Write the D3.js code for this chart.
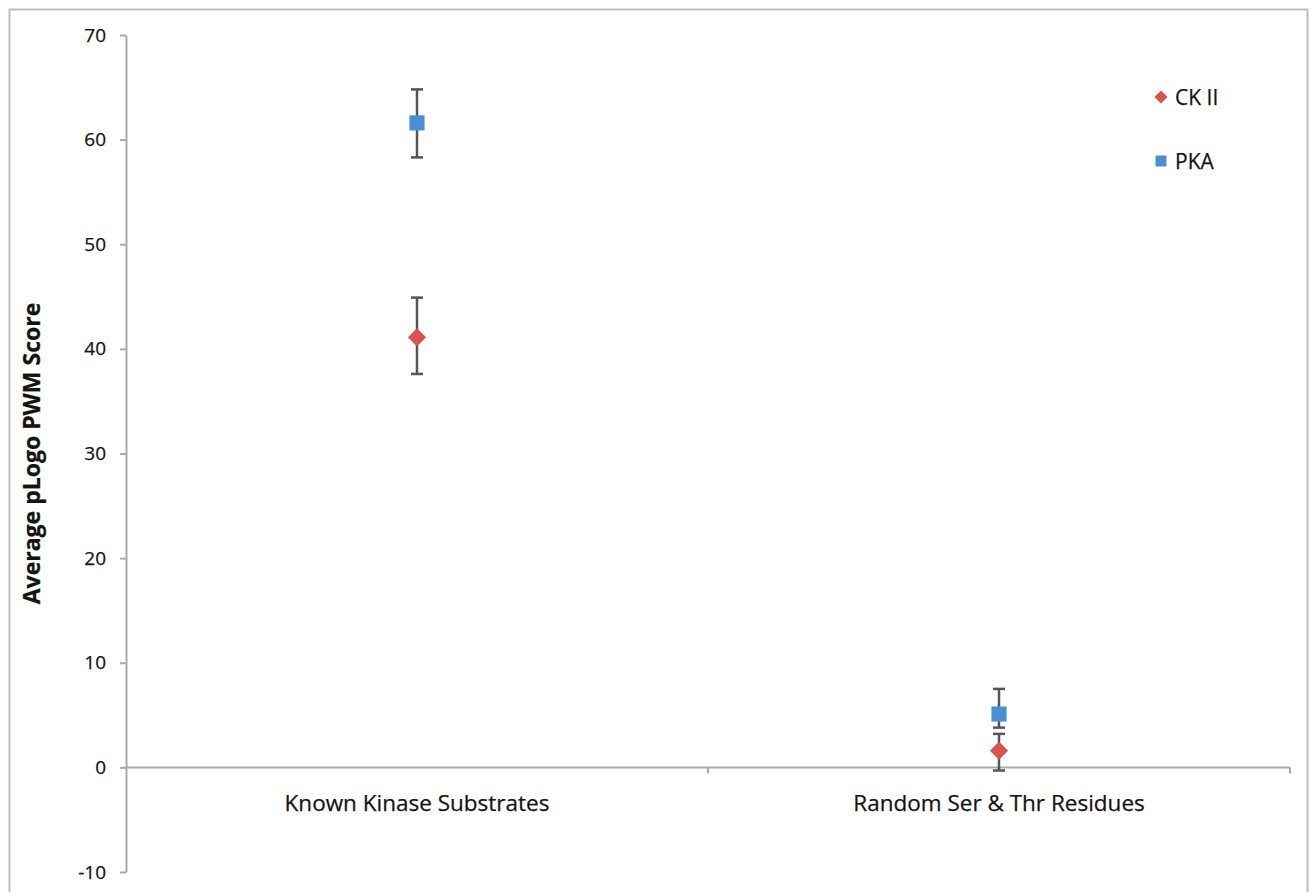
<!DOCTYPE html>
<html>
<head>
<meta charset="utf-8">
<script src="https://cdn.jsdelivr.net/npm/d3@7"></script>
<style>
  body { margin: 0; background: #fff; }
  text { font-family: "Open Sans", Lato, sans-serif; fill: #141414; stroke: #141414; stroke-width: 0.25px; }
</style>
</head>
<body>
<svg id="chart"></svg>
<script>
const width = 1313, height = 892;

// data
const categories = ["Known Kinase Substrates", "Random Ser & Thr Residues"];
const series = ["CK II", "PKA"];
const colors = ["#d9534f", "#4a8fd4"];
const ck2Mean = [41.1, 1.6];
const ck2Low = [37.6, -0.3];
const ck2High = [44.9, 3.2];
const pkaMean = [61.6, 5.1];
const pkaLow = [58.3, 3.8];
const pkaHigh = [64.8, 7.5];
const yTicks = [-10, 0, 10, 20, 30, 40, 50, 60, 70];

const margin = {top: 35, right: 23, bottom: 20, left: 126};

const svg = d3.select("#chart")
  .attr("width", width)
  .attr("height", height);

// outer frame
svg.append("rect")
  .attr("x", 9.5).attr("y", 9.5)
  .attr("width", 1298).attr("height", 900)
  .attr("fill", "none")
  .attr("stroke", "#bdbdbd")
  .attr("stroke-width", 2);

const x = d3.scaleBand()
  .domain(categories)
  .range([margin.left, width - margin.right])
  .padding(0);

const y = d3.scaleLinear()
  .domain([-10, 70])
  .range([872, margin.top]);

// y axis
const yAxis = svg.append("g")
  .attr("transform", "translate(" + margin.left + ",0)")
  .call(d3.axisLeft(y).tickValues(yTicks).tickFormat(d => String(d))
    .tickSize(6).tickPadding(14).tickSizeOuter(0));
yAxis.select(".domain").attr("stroke", "#aaaaaa").attr("stroke-width", 2);
yAxis.selectAll(".tick line").attr("stroke", "#aaaaaa").attr("stroke-width", 2);
yAxis.selectAll(".tick text")
  .style("font-size", "19px")
  .style("font-family", "'Open Sans', sans-serif")
  .attr("fill", "#141414");

// x axis at zero
const xLine = svg.append("g")
  .attr("transform", "translate(0," + y(0) + ")");
xLine.append("line")
  .attr("x1", margin.left).attr("x2", width - margin.right)
  .attr("stroke", "#aaaaaa").attr("stroke-width", 2);
const xBounds = [margin.left + x.bandwidth(), width - margin.right];
xLine.selectAll(".xtick")
  .data(xBounds)
  .join("line")
  .attr("x1", d => d).attr("x2", d => d)
  .attr("y1", 0).attr("y2", 6)
  .attr("stroke", "#aaaaaa").attr("stroke-width", 2);
xLine.selectAll(".xlabel")
  .data(categories)
  .join("text")
  .attr("x", d => x(d) + x.bandwidth() / 2)
  .attr("y", 44)
  .attr("text-anchor", "middle")
  .style("font-size", "22.5px")
  .text(d => d);

// y axis title
svg.append("text")
  .attr("transform", "translate(40," + ((y(70) + y(-10)) / 2) + ") rotate(-90)")
  .attr("text-anchor", "middle")
  .style("font-size", "23px")
  .style("font-weight", "bold")
  .text("Average pLogo PWM Score");

// error bars + markers
const seriesData = [
  {name: series[0], color: colors[0], shape: "diamond", mean: ck2Mean, low: ck2Low, high: ck2High},
  {name: series[1], color: colors[1], shape: "square", mean: pkaMean, low: pkaLow, high: pkaHigh}
];

const cx = c => x(c) + x.bandwidth() / 2;

seriesData.forEach(s => {
  const g = svg.append("g");
  const pts = categories.map((c, i) => ({c: c, m: s.mean[i], lo: s.low[i], hi: s.high[i]}));
  g.selectAll(".err")
    .data(pts)
    .join("line")
    .attr("x1", d => cx(d.c)).attr("x2", d => cx(d.c))
    .attr("y1", d => y(d.lo)).attr("y2", d => y(d.hi))
    .attr("stroke", "#555").attr("stroke-width", 2.5);
  g.selectAll(".capLo")
    .data(pts)
    .join("line")
    .attr("x1", d => cx(d.c) - 6).attr("x2", d => cx(d.c) + 6)
    .attr("y1", d => y(d.lo)).attr("y2", d => y(d.lo))
    .attr("stroke", "#555").attr("stroke-width", 2.5);
  g.selectAll(".capHi")
    .data(pts)
    .join("line")
    .attr("x1", d => cx(d.c) - 6).attr("x2", d => cx(d.c) + 6)
    .attr("y1", d => y(d.hi)).attr("y2", d => y(d.hi))
    .attr("stroke", "#555").attr("stroke-width", 2.5);
  s.pts = pts;
});

const symSize = {diamond: 210, square: 230};
const symType = {diamond: d3.symbolDiamond2, square: d3.symbolSquare};
seriesData.forEach(s => {
  svg.append("g").selectAll("path")
    .data(s.pts)
    .join("path")
    .attr("transform", d => "translate(" + cx(d.c) + "," + y(d.m) + ")")
    .attr("d", d3.symbol().type(symType[s.shape]).size(symSize[s.shape]))
    .attr("fill", s.color);
});

// legend
const legend = svg.append("g").attr("transform", "translate(1161,97)");
const items = legend.selectAll("g")
  .data(seriesData)
  .join("g")
  .attr("transform", (d, i) => "translate(0," + (i * 64) + ")");
items.append("path")
  .attr("d", d => d3.symbol().type(symType[d.shape]).size(d.shape === "diamond" ? 110 : 120)())
  .attr("fill", d => d.color);
items.append("text")
  .attr("x", 14)
  .attr("dy", "0.36em")
  .style("font-size", "21px")
  .text(d => d.name);
</script>
</body>
</html>
